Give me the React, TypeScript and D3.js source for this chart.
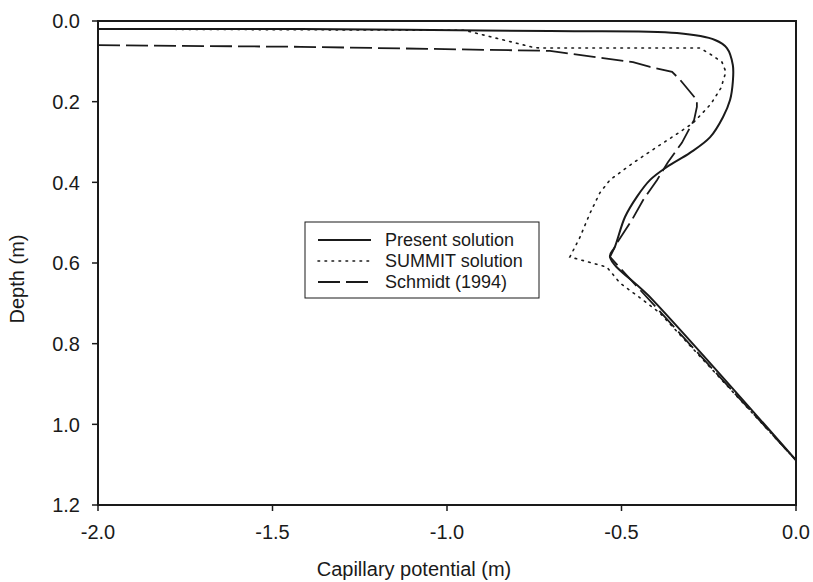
import React, { useEffect } from "react";
import * as d3 from "d3";

// capillary potential (m) vs depth (m)
const presentX = [-2.0, -1.42, -0.705, -0.341, -0.232, -0.198, -0.181, -0.181, -0.189, -0.209, -0.246, -0.304, -0.37, -0.418, -0.456, -0.49, -0.519, -0.533, -0.41, 0.0];
const presentY = [0.02, 0.02, 0.025, 0.03, 0.047, 0.067, 0.109, 0.151, 0.196, 0.238, 0.288, 0.327, 0.362, 0.394, 0.436, 0.486, 0.56, 0.585, 0.692, 1.089];

const summitX = [-2.0, -0.95, -0.75, -0.733, -0.275, -0.246, -0.212, -0.201, -0.215, -0.244, -0.295, -0.341, -0.398, -0.467, -0.533, -0.562, -0.59, -0.619, -0.648, -0.542, -0.504, -0.438, -0.39, 0.0];
const summitY = [0.02, 0.023, 0.066, 0.067, 0.067, 0.082, 0.102, 0.126, 0.166, 0.206, 0.253, 0.28, 0.312, 0.352, 0.394, 0.426, 0.476, 0.536, 0.585, 0.61, 0.65, 0.692, 0.724, 1.089];

const schmidtX = [-2.0, -1.42, -0.705, -0.553, -0.467, -0.418, -0.355, -0.332, -0.284, -0.284, -0.292, -0.327, -0.367, -0.398, -0.438, -0.47, -0.513, -0.533, 0.0];
const schmidtY = [0.06, 0.064, 0.074, 0.092, 0.102, 0.114, 0.126, 0.146, 0.196, 0.213, 0.245, 0.302, 0.35, 0.394, 0.444, 0.493, 0.55, 0.585, 1.089];

const xTicks = [-2.0, -1.5, -1.0, -0.5, 0.0];
const yTicks = [0.0, 0.2, 0.4, 0.6, 0.8, 1.0, 1.2];
const legendLabels = ["Present solution", "SUMMIT solution", "Schmidt (1994)"];

const W = 813;
const H = 582;
const FONT = "'Liberation Sans', Arial, Helvetica, sans-serif";
const INK = "#1a1a1a";

export default function App() {
  useEffect(() => {
    document.body.style.margin = "0";
  }, []);

  const x = d3.scaleLinear().domain([-2, 0]).range([98, 796]);
  const y = d3.scaleLinear().domain([0, 1.2]).range([21, 505]);

  const toPts = (xs: number[], ys: number[]) => xs.map((v, i) => [v, ys[i]] as [number, number]);

  const smooth = d3
    .line<[number, number]>()
    .x((d) => x(d[0]))
    .y((d) => y(d[1]))
    .curve(d3.curveCatmullRom.alpha(0.5));
  const straight = d3
    .line<[number, number]>()
    .x((d) => x(d[0]))
    .y((d) => y(d[1]));

  const series = [
    { d: smooth(toPts(presentX, presentY)), dash: "none", w: 2 },
    { d: straight(toPts(summitX, summitY)), dash: "1.6 5.4", w: 1.6 },
    { d: straight(toPts(schmidtX, schmidtY)), dash: "22 6", w: 1.8 },
  ];

  const [x0, x1] = x.range();
  const [y0, y1] = y.range();

  // legend box
  const lg = { left: 305, top: 222, right: 539, bottom: 298 };
  const rowY = [240, 261, 282];

  return (
    <svg width={W} height={H} style={{ display: "block", background: "#fff" }} fontFamily={FONT}>
      {/* curves */}
      {series.map((s, i) => (
        <path key={i} d={s.d || ""} fill="none" stroke={INK} strokeWidth={s.w} strokeDasharray={s.dash} strokeLinecap={i === 1 ? "round" : "butt"} />
      ))}

      {/* frame */}
      <rect x={x0} y={y0} width={x1 - x0} height={y1 - y0} fill="none" stroke={INK} strokeWidth={2} />

      {/* x ticks */}
      {xTicks.map((t) => (
        <g key={"x" + t} transform={`translate(${x(t)},${y1})`}>
          <line y2={6} stroke={INK} strokeWidth={1.5} />
          <text y={34} textAnchor="middle" fontSize={20} fill={INK}>
            {t.toFixed(1)}
          </text>
        </g>
      ))}

      {/* y ticks */}
      {yTicks.map((t) => (
        <g key={"y" + t} transform={`translate(${x0},${y(t)})`}>
          <line x2={-6} stroke={INK} strokeWidth={1.5} />
          <text x={-18} dy="0.36em" textAnchor="end" fontSize={20} fill={INK}>
            {t.toFixed(1)}
          </text>
        </g>
      ))}

      {/* axis titles */}
      <text x={414} y={576} textAnchor="middle" fontSize={20} fill={INK}>
        Capillary potential (m)
      </text>
      <text transform={`translate(24,279) rotate(-90)`} textAnchor="middle" fontSize={20} fill={INK}>
        Depth (m)
      </text>

      {/* legend */}
      <rect x={lg.left} y={lg.top} width={lg.right - lg.left} height={lg.bottom - lg.top} fill="#fff" stroke={INK} strokeWidth={1} />
      {legendLabels.map((label, i) => (
        <g key={label}>
          <line
            x1={lg.left + 13}
            x2={lg.left + 66}
            y1={rowY[i]}
            y2={rowY[i]}
            stroke={INK}
            strokeWidth={series[i].w}
            strokeDasharray={series[i].dash}
            strokeLinecap={i === 1 ? "round" : "butt"}
          />
          <text x={lg.left + 80} y={rowY[i]} dy="0.36em" fontSize={18} fill={INK}>
            {label}
          </text>
        </g>
      ))}
    </svg>
  );
}
